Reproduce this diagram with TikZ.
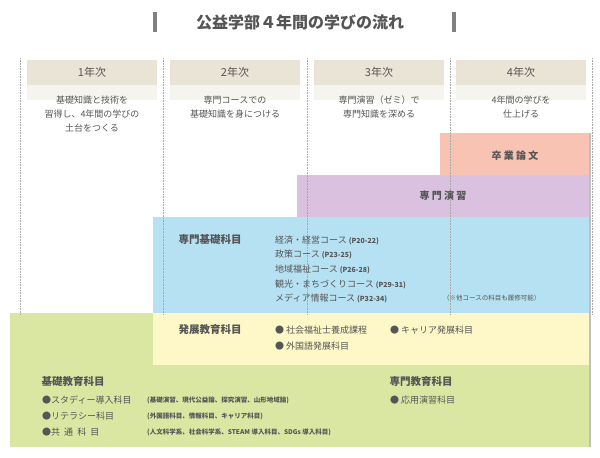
\documentclass[tikz,border=0pt]{standalone}
\usepackage{fontspec}
\setmainfont{Noto Sans CJK JP}
\usetikzlibrary{positioning}
\definecolor{txt}{HTML}{555555}
\definecolor{hdr}{HTML}{E9E4D6}
\definecolor{pinkbox}{HTML}{F8C3B2}
\definecolor{purplebox}{HTML}{DAC1E0}
\definecolor{bluebox}{HTML}{B6E1F2}
\definecolor{yellowbox}{HTML}{FEF7C7}
\definecolor{greenbox}{HTML}{D9E7A3}
\tikzset{
  yearhead/.style={fill=hdr, minimum width=130pt, minimum height=25pt, inner sep=0pt, text=txt, font=\fontsize{11}{13}\selectfont},
  yeartext/.style={align=center, text=txt, font=\fontsize{9}{14}\selectfont, anchor=north},
  label/.style={anchor=west, text=txt, font=\fontsize{10.5}{12}\selectfont\bfseries},
  item/.style={anchor=west, text=txt, inner sep=0pt, font=\fontsize{9}{11}\selectfont},
  small/.style={anchor=west, text=txt, inner sep=0pt, font=\fontsize{6.5}{8}\selectfont},
  divider/.style={densely dotted, gray!70, line width=0.6pt}
}
\begin{document}
\begin{tikzpicture}[x=1pt,y=-1pt]
\useasboundingbox (0,0) rectangle (600,458);

% title
\node (title) at (300,22) {\fontsize{16}{18}\selectfont\bfseries\color{txt}公益学部４年間の学びの流れ};
\fill[gray] (153,12) rectangle (157,32);
\fill[gray] (452,12) rectangle (456,32);

% blocks
\fill[greenbox] (10,313) rectangle (590,447);
\fill[bluebox] (153,217) rectangle (590,313);
\fill[yellowbox] (153,313) rectangle (590,365);
\fill[purplebox] (297,175) rectangle (590,217);
\fill[pinkbox] (440,133) rectangle (590,175);
\fill[gray!50] (589,133) rectangle (591,447);

% year columns
\foreach \x in {20,163,307,450,592}
  \draw[divider] (\x,58) -- (\x,315);
\foreach \i/\x/\t in {1/92/{基礎知識と技術を\\習得し、4年間の学びの\\土台をつくる},
                      2/235/{専門コースでの\\基礎知識を身につける},
                      3/379/{専門演習（ゼミ）で\\専門知識を深める},
                      4/521/{4年間の学びを\\仕上げる}} {
  \fill[hdr!40] (\x-65,85) rectangle (\x+65,100);
  \node[yearhead] (year\i) at (\x,72) {\i 年次};
  \node[yeartext] (goal\i) at (\x,92) {\t};
}

\node[text=txt, font=\fontsize{10}{12}\selectfont\bfseries] (thesis) at (515,156) {卒 業 論 文};
\node[text=txt, font=\fontsize{10}{12}\selectfont\bfseries] (seminar) at (443,196) {専 門 演 習};

% specialised basics
\node[label] (spbasic) at (175,240) {専門基礎科目};
\node[item] (c1) at (275,240) {経済・経営コース {\fontsize{7}{8}\selectfont\bfseries (P20-22)}};
\node[item] (c2) at (275,254) {政策コース {\fontsize{7}{8}\selectfont\bfseries (P23-25)}};
\node[item] (c3) at (275,269) {地域福祉コース {\fontsize{7}{8}\selectfont\bfseries (P26-28)}};
\node[item] (c4) at (275,284) {観光・まちづくりコース {\fontsize{7}{8}\selectfont\bfseries (P29-31)}};
\node[item] (c5) at (275,298) {メディア情報コース {\fontsize{7}{8}\selectfont\bfseries (P32-34)}};
\node[small] (note) at (443,298) {（※他コースの科目も履修可能）};

% advanced
\node[label] (advanced) at (175,330) {発展教育科目};
\node[item] (a1) at (275,330) {● 社会福祉士養成課程};
\node[item] (a2) at (390,330) {● キャリア発展科目};
\node[item] (a3) at (275,346) {● 外国語発展科目};

% foundation
\node[label] (basic) at (38,382) {基礎教育科目};
\node[item] (b1) at (42,400) {●スタディー導入科目};
\node[item] (b2) at (42,416) {●リテラシー科目};
\node[item] (b3) at (42,432) {●共\ \ 通\ \ 科\ \ 目};
\node[small] (p1) at (147,400) {\bfseries (基礎演習、現代公益論、探究演習、山形地域論)};
\node[small] (p2) at (147,416) {\bfseries (外国語科目、情報科目、キャリア科目)};
\node[small] (p3) at (147,432) {\bfseries (人文科学系、社会科学系、STEAM 導入科目、SDGs 導入科目)};
\node[label] (spedu) at (386,382) {専門教育科目};
\node[item] (s1) at (390,400) {● 応用演習科目};
\end{tikzpicture}
\end{document}
